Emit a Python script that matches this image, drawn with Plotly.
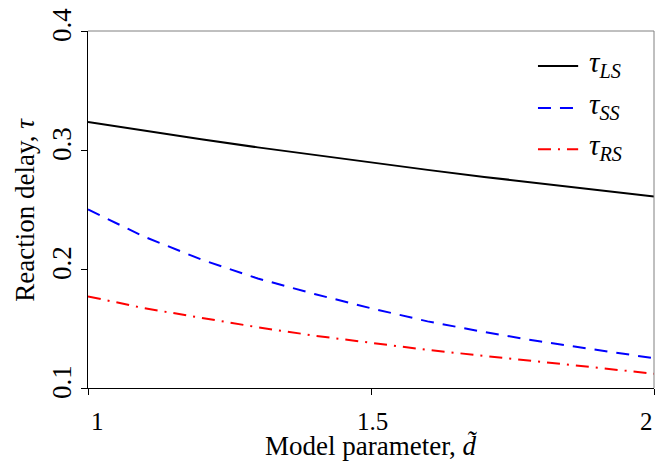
import plotly.graph_objects as go

d_vals = [1.0, 1.1, 1.2, 1.3, 1.4, 1.5, 1.6, 1.7, 1.8, 1.9, 2.0]
tau_ls = [0.3235, 0.3161, 0.3090, 0.3022, 0.2957, 0.2894, 0.2833, 0.2774, 0.2717, 0.2662, 0.2609]
tau_ss = [0.250, 0.227, 0.208, 0.192, 0.179, 0.167, 0.156, 0.147, 0.139, 0.132, 0.125]
tau_rs = [0.177, 0.167, 0.159, 0.151, 0.144, 0.138, 0.132, 0.127, 0.122, 0.117, 0.112]

x_ticks = [1, 1.5, 2]
x_tick_labels = ["1", "1.5", "2"]
x_label_shift = [9, 1, -8]   # edge labels sit inward, as in the reference
y_ticks = [0.1, 0.2, 0.3, 0.4]
y_tick_labels = ["0.1", "0.2", "0.3", "0.4"]

series_names = ["<i>τ</i><sub><i>LS</i></sub>", "<i>τ</i><sub><i>SS</i></sub>", "<i>τ</i><sub><i>RS</i></sub>"]
series_colors = ["black", "#0000ff", "#ff0000"]
series_dashes = ["solid", "13px,9px", "13px,7px,2px,7px"]
series_values = [tau_ls, tau_ss, tau_rs]

FONT = "Liberation Serif, Times New Roman, serif"

fig = go.Figure()
for name, vals, col, dash in zip(series_names, series_values, series_colors, series_dashes):
    fig.add_trace(go.Scatter(x=d_vals, y=vals, mode="lines", name=name, showlegend=False,
                             line=dict(color=col, width=2, dash=dash)))

# manual legend (sample lines 40px long, like the reference)
legend_y = [0.902, 0.784, 0.669]
shapes = [
    dict(type="line", xref="paper", yref="paper", x0=0, x1=1, y0=1, y1=1,
         line=dict(color="#808080", width=1)),
    dict(type="line", xref="paper", yref="paper", x0=1, x1=1, y0=0, y1=1,
         line=dict(color="#808080", width=1)),
]
annotations = []
for name, col, dash, ly in zip(series_names, series_colors, series_dashes, legend_y):
    shapes.append(dict(type="line", xref="paper", yref="paper", x0=0.795, x1=0.866, y0=ly, y1=ly,
                       line=dict(color=col, width=2, dash=dash)))
    annotations.append(dict(text=name, xref="paper", yref="paper", x=0.881, y=ly + 0.005,
                            xanchor="left", yanchor="middle", showarrow=False,
                            font=dict(size=29, family=FONT, color="black")))

# x tick labels placed on the x axis scale
for tv, tl, sh in zip(x_ticks, x_tick_labels, x_label_shift):
    annotations.append(dict(text=tl, xref="x", yref="paper", x=tv, y=-0.095, xshift=sh,
                            xanchor="center", yanchor="middle", showarrow=False,
                            font=dict(size=25, family=FONT, color="black")))

# y tick labels (rotated), placed on the y axis scale, nudged up like the reference
for tv, tl in zip(y_ticks, y_tick_labels):
    annotations.append(dict(text=tl, xref="paper", yref="y", x=-0.0459, y=tv, yshift=6,
                            xanchor="center", yanchor="middle", showarrow=False, textangle=-90,
                            font=dict(size=27, family=FONT, color="black")))

annotations.append(dict(text="Model parameter, <i>d̃</i>", xref="paper", yref="paper",
                        x=0.5, y=-0.162, xanchor="center", yanchor="middle", showarrow=False,
                        font=dict(size=27, family=FONT, color="black")))
annotations.append(dict(text="Reaction delay, <i>τ</i>", xref="paper", yref="paper",
                        x=-0.1128, y=0.5, xanchor="center", yanchor="middle", showarrow=False,
                        textangle=-90, font=dict(size=27, family=FONT, color="black")))

# the page body has an 8px margin, so the figure is 8px smaller and margins shifted
fig.update_layout(
    width=657, height=455,
    margin=dict(l=80, r=11, t=23, b=75),
    paper_bgcolor="white", plot_bgcolor="white",
    font=dict(family=FONT, color="black", size=25),
    showlegend=False,
    xaxis=dict(range=[1, 2], tickvals=x_ticks, showticklabels=False, automargin=False,
               ticks="outside", ticklen=6, tickcolor="black", showline=True, linecolor="black",
               linewidth=1, showgrid=False, zeroline=False),
    yaxis=dict(range=[0.1, 0.4], tickvals=y_ticks, showticklabels=False, automargin=False,
               ticks="outside", ticklen=6, tickcolor="black", showline=True, linecolor="black",
               linewidth=1, showgrid=False, zeroline=False),
    shapes=shapes,
    annotations=annotations,
)

fig.write_html("out.html")
